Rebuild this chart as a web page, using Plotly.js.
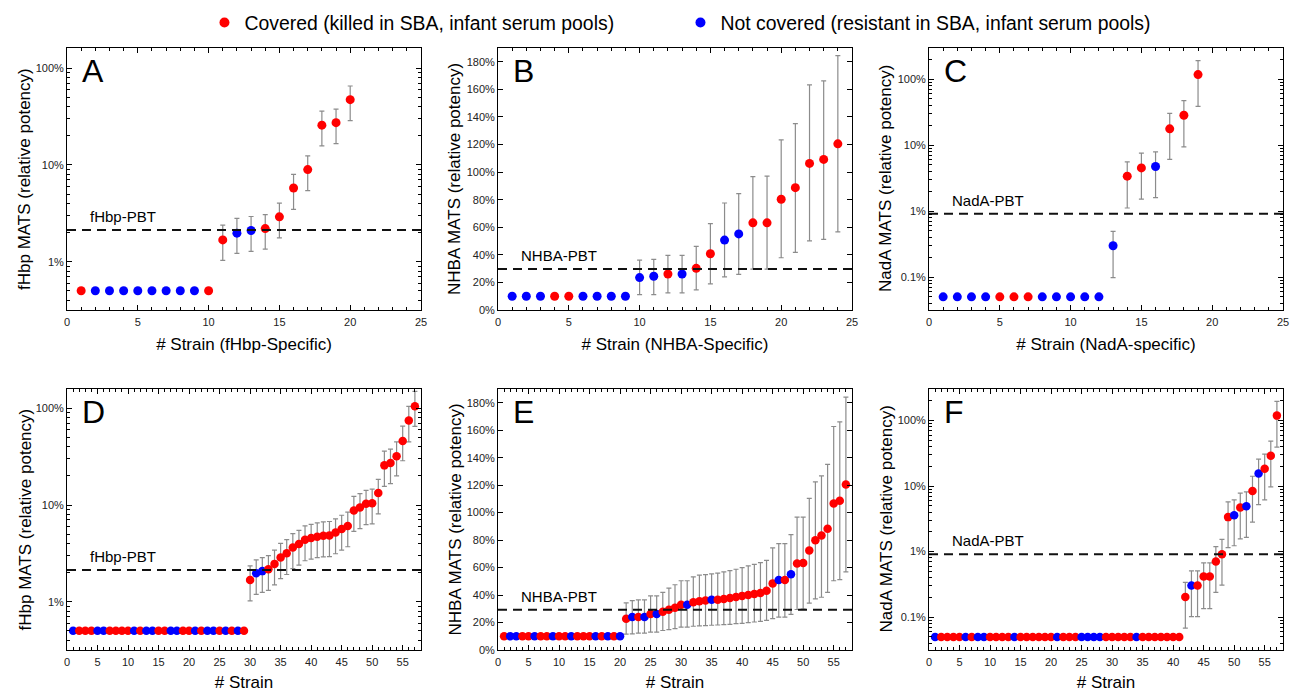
<!DOCTYPE html>
<html><head><meta charset="utf-8">
<script src="https://cdn.plot.ly/plotly-3.0.1.min.js"></script>
<style>html,body{margin:0;padding:0;background:#fff}#chart{width:1294px;height:692px}</style>
</head><body><div id="chart"></div>
<script>
// ---------- DATA ----------
const legendLabels = ['Covered (killed in SBA, infant serum pools)', 'Not covered (resistant in SBA, infant serum pools)'];
const panelLetters = ['A', 'B', 'C', 'D', 'E', 'F'];
const pbtLabels = ['fHbp-PBT', 'NHBA-PBT', 'NadA-PBT', 'fHbp-PBT', 'NHBA-PBT', 'NadA-PBT'];
const yTitles = ['fHbp MATS (relative potency)', 'NHBA MATS (relative potency)', 'NadA MATS (relative potency)',
                 'fHbp MATS (relative potency)', 'NHBA MATS (relative potency)', 'NadA MATS (relative potency)'];
const xTitles = ['# Strain (fHbp-Specific)', '# Strain (NHBA-Specific)', '# Strain (NadA-specific)', '# Strain', '# Strain', '# Strain'];
const pbtValues = [2.12, 29.7, 0.91, 2.12, 29.3, 0.91];

const xTickValsTop = [0, 5, 10, 15, 20, 25];
const xTickValsBottom = [0, 5, 10, 15, 20, 25, 30, 35, 40, 45, 50, 55];
const logTickValsAD = [1, 10, 100];
const logTickTextAD = ['1%', '10%', '100%'];
const logTickValsCF = [0.1, 1, 10, 100];
const logTickTextCF = ['0.1%', '1%', '10%', '100%'];
const linTickVals = [0, 20, 40, 60, 80, 100, 120, 140, 160, 180];
const linTickText = ['0%', '20%', '40%', '60%', '80%', '100%', '120%', '140%', '160%', '180%'];

// Panel A (fHbp-specific)
const A_val = [0.5, 0.5, 0.5, 0.5, 0.5, 0.5, 0.5, 0.5, 0.5, 0.5, 1.68, 1.97, 2.1, 2.2, 2.91, 5.78, 8.96, 25.8, 27.4, 47.4];
const A_hi  = [null, null, null, null, null, null, null, null, null, null, 2.39, 2.8, 2.93, 3.07, 4.04, 8.0, 12.4, 36.1, 37.9, 65.6];
const A_lo  = [null, null, null, null, null, null, null, null, null, null, 1.03, 1.22, 1.28, 1.35, 1.76, 3.47, 5.42, 15.8, 16.6, 28.7];
const A_cov = [1, 0, 0, 0, 0, 0, 0, 0, 0, 1, 1, 0, 0, 1, 1, 1, 1, 1, 1, 1];

// Panel B (NHBA-specific)
const B_val = [10, 10, 10, 10, 10, 10, 10, 10, 10, 23.5, 24.5, 26.1, 26.1, 30.2, 40.8, 50.7, 55.2, 63.2, 63.2, 80.3, 88.7, 106.3, 109.2, 120.5];
const B_hi  = [null, null, null, null, null, null, null, null, null, 36.2, 36.7, 39.6, 39.6, 46.1, 62.7, 77.6, 84.4, 96.7, 97.1, 123.4, 135.2, 163.3, 166.2, 184.5];
const B_lo  = [null, null, null, null, null, null, null, null, null, 11.2, 11.2, 12.4, 12.4, 14.6, 18.9, 24.0, 25.9, 29.7, 29.7, 37.9, 41.8, 50.2, 51.2, 56.7];
const B_cov = [0, 0, 0, 1, 1, 0, 0, 0, 0, 0, 0, 1, 0, 1, 1, 0, 0, 1, 1, 1, 1, 1, 1, 1];

// Panel C (NadA-specific)
const C_val = [0.05, 0.05, 0.05, 0.05, 0.05, 0.05, 0.05, 0.05, 0.05, 0.05, 0.05, 0.05, 0.298, 3.37, 4.5, 4.73, 17.6, 28.2, 116.6];
const C_hi  = [null, null, null, null, null, null, null, null, null, null, null, null, 0.49, 5.56, 7.53, 7.88, 30.2, 47, 190];
const C_lo  = [null, null, null, null, null, null, null, null, null, null, null, null, 0.098, 1.11, 1.51, 1.6, 6.04, 9.4, 38.6];
const C_cov = [0, 0, 0, 0, 1, 1, 1, 0, 0, 0, 0, 0, 0, 1, 1, 0, 1, 1, 1];

// Panel D (fHbp, all strains)
const D_val = [0.5, 0.5, 0.5, 0.5, 0.5, 0.5, 0.5, 0.5, 0.5, 0.5, 0.5, 0.5, 0.5, 0.5, 0.5, 0.5, 0.5, 0.5, 0.5, 0.5,
               0.5, 0.5, 0.5, 0.5, 0.5, 0.5, 0.5, 0.5, 0.5,
               1.68, 1.97, 2.07, 2.17, 2.46, 2.87, 3.16, 3.64, 3.95, 4.38, 4.56, 4.7, 4.8, 4.85, 5.18, 5.65, 6.08,
               8.77, 9.42, 10.3, 10.4, 13.3, 25.7, 27.2, 32, 46, 75, 105];
const D_hi  = [null, null, null, null, null, null, null, null, null, null, null, null, null, null, null, null, null, null, null, null,
               null, null, null, null, null, null, null, null, null,
               2.35, 2.71, 2.85, 2.99, 3.42, 4.01, 4.38, 5.05, 5.47, 6.08, 6.31, 6.53, 6.7, 6.75, 7.18, 7.83, 8.42,
               12.3, 13.1, 14.2, 14.6, 18.4, 36, 37.9, 45, 65.6, 105, 150];
const D_lo  = [null, null, null, null, null, null, null, null, null, null, null, null, null, null, null, null, null, null, null, null,
               null, null, null, null, null, null, null, null, null,
               1.02, 1.19, 1.25, 1.31, 1.49, 1.73, 1.91, 2.2, 2.39, 2.65, 2.76, 2.85, 2.9, 2.93, 3.13, 3.42, 3.7,
               5.34, 5.7, 6.27, 6.37, 8.1, 15.6, 16.6, 20, 28.7, 45, 65];
const D_cov = [0, 1, 1, 1, 0, 0, 1, 1, 1, 1, 0, 1, 0, 0, 1, 1, 0, 0, 1, 1, 0, 1, 0, 0, 1, 0, 1, 0, 1,
               1, 0, 0, 1, 1, 1, 1, 1, 1, 1, 1, 1, 1, 1, 1, 1, 1, 1, 1, 1, 1, 1, 1, 1, 1, 1, 1, 1];

// Panel E (NHBA, all strains)
const E_val = [10, 10, 10, 10, 10, 10, 10, 10, 10, 10, 10, 10, 10, 10, 10, 10, 10, 10, 10, 10,
               22.8, 24, 24, 24, 26.2, 26.2, 27.8, 29.3, 30.7, 32.9, 32.9, 34.8, 35.5, 36, 36.5, 36.5, 37.2, 37.9, 38.6, 39.4,
               40.1, 40.8, 41.5, 43.2, 48.5, 51, 51, 55.2, 62.9, 63.4, 72.5, 79.9, 83.3, 88.3, 106.6, 108.7, 120.5];
const E_hi  = [null, null, null, null, null, null, null, null, null, null, null, null, null, null, null, null, null, null, null, null,
               34.3, 36, 36.5, 36.5, 39.4, 39.4, 42, 45.1, 47.5, 50.4, 50.4, 53.3, 54.5, 54.9, 55.4, 55.9, 56.9, 57.8, 58.8, 60,
               61.2, 62.4, 63.6, 65.3, 74.4, 77.5, 77.5, 84, 96.7, 96.7, 110.4, 122.4, 126.7, 135.1, 162.7, 166.1, 184.1];
const E_lo  = [null, null, null, null, null, null, null, null, null, null, null, null, null, null, null, null, null, null, null, null,
               11.5, 11.8, 12.3, 12.3, 13, 13, 14.2, 14.9, 15.6, 16.6, 16.6, 17.3, 17.5, 17.8, 18, 18.2, 18.5, 18.7, 19.2, 19.4,
               19.9, 20.4, 20.9, 21.6, 22.8, 24, 24, 25.9, 29.5, 29.8, 34.1, 37.2, 38.4, 42, 50.4, 51.3, 56.9];
const E_cov = [1, 0, 0, 1, 1, 0, 1, 1, 0, 1, 1, 0, 1, 1, 1, 0, 1, 0, 1, 0,
               1, 0, 1, 0, 1, 0, 1, 1, 1, 1, 0, 1, 1, 1, 0, 1, 1, 1, 1, 1, 1, 1, 1, 1, 1, 0, 1, 0, 1, 1, 1, 1, 1, 1, 1, 1, 1];

// Panel F (NadA, all strains)
const F_val = [0.05, 0.05, 0.05, 0.05, 0.05, 0.05, 0.05, 0.05, 0.05, 0.05, 0.05, 0.05, 0.05, 0.05, 0.05, 0.05, 0.05, 0.05, 0.05, 0.05,
               0.05, 0.05, 0.05, 0.05, 0.05, 0.05, 0.05, 0.05, 0.05, 0.05, 0.05, 0.05, 0.05, 0.05, 0.05, 0.05, 0.05, 0.05, 0.05, 0.05, 0.05,
               0.203, 0.305, 0.305, 0.418, 0.418, 0.705, 0.91, 3.36, 3.6, 4.7, 4.93, 8.43, 15.6, 18.4, 28.9, 118.6];
const F_hi  = [null, null, null, null, null, null, null, null, null, null, null, null, null, null, null, null, null, null, null, null,
               null, null, null, null, null, null, null, null, null, null, null, null, null, null, null, null, null, null, null, null, null,
               0.339, 0.51, 0.51, 0.673, 0.673, 1.19, 1.54, 5.74, 6.15, 7.78, 8.13, 14.1, 25.8, 30.7, 48.3, 195];
const F_lo  = [null, null, null, null, null, null, null, null, null, null, null, null, null, null, null, null, null, null, null, null,
               null, null, null, null, null, null, null, null, null, null, null, null, null, null, null, null, null, null, null, null, null,
               0.068, 0.102, 0.102, 0.135, 0.135, 0.239, 0.308, 1.15, 1.23, 1.57, 1.65, 2.82, 5.22, 6.15, 9.69, 39.2];
const F_cov = [0, 1, 1, 1, 1, 0, 1, 0, 0, 1, 1, 1, 1, 0, 1, 1, 1, 1, 1, 1, 0, 1, 1, 1, 0, 0, 0, 0, 1, 1, 1, 1, 1, 0, 1, 1, 1, 1, 1, 1, 1,
               1, 0, 1, 1, 1, 1, 1, 1, 0, 1, 0, 1, 0, 1, 1, 1];

// ---------- STYLE / BUILD ----------
const RED = 'rgb(255,0,0)', BLUE = 'rgb(0,0,255)';
const FONT = '"Liberation Sans", Arial, sans-serif';
const panels = [
  {v: A_val, hi: A_hi, lo: A_lo, c: A_cov, xr: [0, 25], yType: 'log', yr: [-0.5, 2.21], ms: 9},
  {v: B_val, hi: B_hi, lo: B_lo, c: B_cov, xr: [0, 25], yType: 'linear', yr: [0, 190], ms: 9},
  {v: C_val, hi: C_hi, lo: C_lo, c: C_cov, xr: [0, 25], yType: 'log', yr: [-1.5, 2.47], ms: 9},
  {v: D_val, hi: D_hi, lo: D_lo, c: D_cov, xr: [0, 58], yType: 'log', yr: [-0.5, 2.2], ms: 8.5},
  {v: E_val, hi: E_hi, lo: E_lo, c: E_cov, xr: [0, 58], yType: 'linear', yr: [0, 190], ms: 8.5},
  {v: F_val, hi: F_hi, lo: F_lo, c: F_cov, xr: [0, 58], yType: 'log', yr: [-1.5, 2.48], ms: 8.5}
];
const W = 1294, H = 692;
const colPx = [[67, 421], [498, 852], [929, 1283]];
const rowPx = [[48, 310], [389, 650]];
const yTitleX = [25, 455, 886];

const traces = [];
const layout = {
  width: W, height: H, margin: {l: 0, r: 0, t: 0, b: 0},
  paper_bgcolor: '#fff', plot_bgcolor: '#fff',
  font: {family: FONT, color: '#000'},
  showlegend: true,
  legend: {orientation: 'h', x: 0.158, y: 0.995, xanchor: 'left', yanchor: 'top',
           font: {size: 19.4, family: FONT, color: '#000'}, entrywidth: 431, entrywidthmode: 'pixels',
           bgcolor: 'rgba(0,0,0,0)', itemclick: false},
  annotations: [], shapes: []
};

function logMinor(lo, hi) {
  const out = [];
  for (let d = lo; d < hi; d++) for (let m = 2; m <= 9; m++) out.push(m * Math.pow(10, d));
  return out;
}

panels.forEach((p, i) => {
  const n = i + 1, sfx = n === 1 ? '' : String(n);
  const xa = 'x' + sfx, ya = 'y' + sfx;
  const xs = p.v.map((_, k) => k + 1);
  traces.push({
    type: 'scatter', mode: 'markers', x: xs, y: p.v, xaxis: xa, yaxis: ya, showlegend: false,
    hoverinfo: 'x+y',
    marker: {size: p.ms, color: p.c.map(c => c ? RED : BLUE), line: {width: 0}},
    error_y: {type: 'data', symmetric: false,
              array: p.hi.map((h, k) => h == null ? NaN : h - p.v[k]),
              arrayminus: p.lo.map((l, k) => l == null ? NaN : p.v[k] - l),
              color: '#8c8c8c', thickness: 1.2, width: 2.5}
  });
  // PBT threshold dashed line
  traces.push({
    type: 'scatter', mode: 'lines', x: p.xr, y: [pbtValues[i], pbtValues[i]], xaxis: xa, yaxis: ya,
    showlegend: false, hoverinfo: 'skip', line: {color: '#111', width: 2, dash: '9px,6px'}
  });
  const col = colPx[i % 3], row = rowPx[Math.floor(i / 3)];
  const xaxis = {
    domain: [col[0] / W, col[1] / W], anchor: ya, range: p.xr, type: 'linear',
    showline: true, linecolor: '#000', linewidth: 1, mirror: 'ticks',
    ticks: 'inside', ticklen: 5, tickwidth: 1, tickcolor: '#000',
    tickmode: 'array', tickvals: i < 3 ? xTickValsTop : xTickValsBottom,
    minor: {ticks: 'inside', ticklen: 3, dtick: 1, tick0: 0, tickcolor: '#000', tickwidth: 1, showgrid: false},
    showgrid: false, zeroline: false, automargin: false, ticklabelstandoff: 2,
    tickfont: {size: 11, family: FONT, color: '#222'},
    title: {text: xTitles[i], font: {size: 17, family: FONT, color: '#000'}, standoff: 10}
  };
  const yaxis = {
    domain: [1 - row[1] / H, 1 - row[0] / H], anchor: xa, type: p.yType, range: p.yr,
    showline: true, linecolor: '#000', linewidth: 1, mirror: 'ticks',
    ticks: 'inside', ticklen: 5, tickwidth: 1, tickcolor: '#000',
    showgrid: false, zeroline: false, automargin: false,
    tickfont: {size: 11, family: FONT, color: '#222'}
  };
  if (p.yType === 'log') {
    const cf = (i % 3 === 2);
    yaxis.tickmode = 'array';
    yaxis.tickvals = cf ? logTickValsCF : logTickValsAD;
    yaxis.ticktext = cf ? logTickTextCF : logTickTextAD;
    yaxis.minor = {ticks: 'inside', ticklen: 3, tickcolor: '#000', tickwidth: 1, tickmode: 'array',
                   tickvals: cf ? logMinor(-2, 3) : logMinor(-1, 3), showgrid: false};
  } else {
    yaxis.tickmode = 'array';
    yaxis.tickvals = linTickVals;
    yaxis.ticktext = linTickText;
  }
  layout['xaxis' + sfx] = xaxis;
  layout['yaxis' + sfx] = yaxis;
  // y-axis title (rotated text)
  layout.annotations.push({xref: 'paper', yref: ya + ' domain', x: yTitleX[i % 3] / W, y: 0.5,
    xanchor: 'center', yanchor: 'middle', textangle: -90, text: yTitles[i], showarrow: false,
    font: {size: 17, family: FONT, color: '#000'}});
  // panel letter
  layout.annotations.push({xref: xa + ' domain', yref: ya + ' domain', x: 0.036, y: 0.99, xanchor: 'left', yanchor: 'top',
    text: panelLetters[i], showarrow: false, font: {size: 32, family: FONT, color: '#000'}});
  // PBT label
  layout.annotations.push({xref: xa + ' domain', yref: ya, x: 0.058,
    y: p.yType === 'log' ? Math.log10(pbtValues[i]) : pbtValues[i],
    xanchor: 'left', yanchor: 'bottom', yshift: 3, text: pbtLabels[i], showarrow: false,
    font: {size: 15, family: FONT, color: '#000'}});
});

// legend-only traces
traces.push({type: 'scatter', mode: 'markers', x: [null], y: [null], xaxis: 'x', yaxis: 'y',
  name: legendLabels[0], marker: {size: 10, color: RED}, showlegend: true});
traces.push({type: 'scatter', mode: 'markers', x: [null], y: [null], xaxis: 'x', yaxis: 'y',
  name: legendLabels[1], marker: {size: 10, color: BLUE}, showlegend: true});

Plotly.newPlot('chart', traces, layout, {staticPlot: true, displayModeBar: false});
</script>
</body></html>
